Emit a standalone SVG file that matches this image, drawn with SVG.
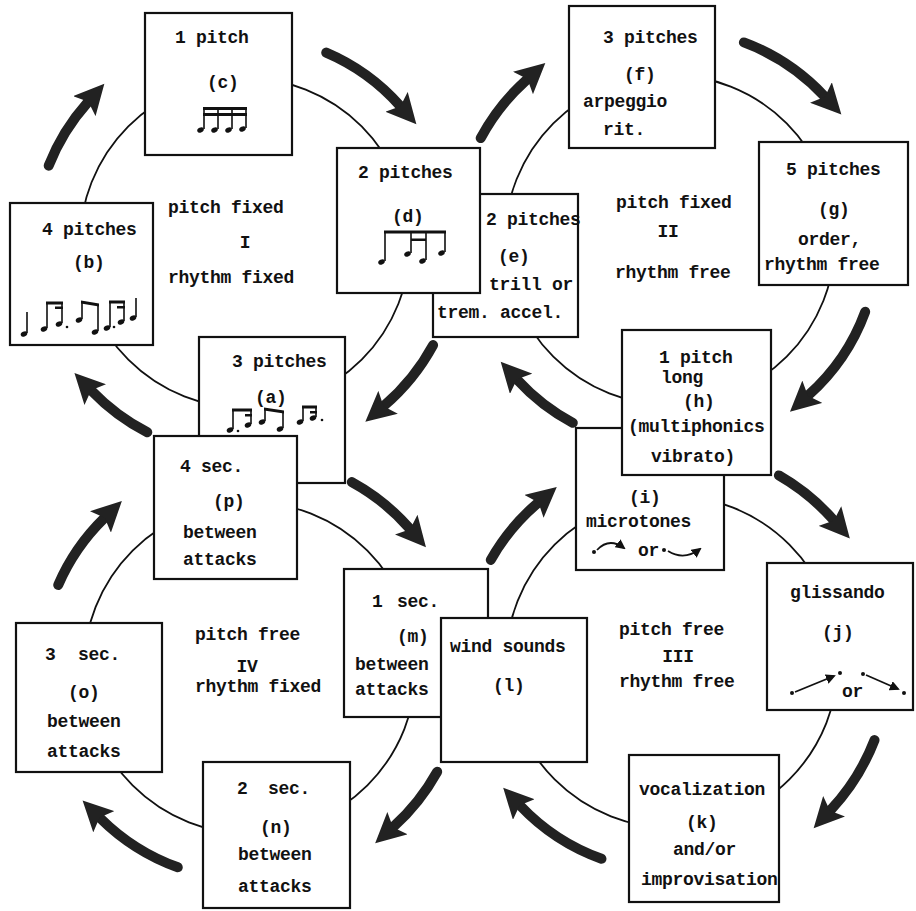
<svg xmlns="http://www.w3.org/2000/svg" width="916" height="911" viewBox="0 0 916 911">
<style>
.bx{fill:#fff;stroke:#111;stroke-width:2.2}
.ring{fill:none;stroke:#111;stroke-width:1.8}
.arr{fill:none;stroke:#222;stroke-width:10;stroke-linecap:round;marker-end:url(#ah)}
.t{font-family:"Liberation Mono","Courier New",monospace;font-size:18px;font-weight:bold;letter-spacing:-0.3px;fill:#111}
.mus{stroke:#111;stroke-width:1.6;fill:none}
.beam{fill:#111}
.nh{fill:#111}
.sym{stroke:#111;stroke-width:1.8;fill:none}
</style>
<defs>
<marker id="ah" markerUnits="userSpaceOnUse" markerWidth="32" markerHeight="30" viewBox="0 0 32 30" refX="5" refY="15" orient="auto">
<path d="M0,0 L30,15 L0,30 L6,15 Z" fill="#222"/>
</marker>
<marker id="sa" markerUnits="userSpaceOnUse" markerWidth="10" markerHeight="10" viewBox="0 0 10 10" refX="8" refY="5" orient="auto">
<path d="M0,0 L10,5 L0,10 Z" fill="#111"/>
</marker>
<ellipse id="hd" cx="0" cy="0" rx="3.4" ry="2.5" transform="rotate(-25)"/>
</defs>
<rect width="916" height="911" fill="#fff"/>

<g id="connectors">
<circle class="ring" cx="245" cy="243" r="165"/>
<circle class="ring" cx="670" cy="240" r="165"/>
<circle class="ring" cx="672" cy="662" r="166"/>
<circle class="ring" cx="250" cy="668" r="166"/>
<path class="arr" d="M48.7,165.7 A211,211 0 0 1 87.7,102.4"/>
<path class="arr" d="M326.2,52.6 A207,207 0 0 1 399.8,105.6"/>
<path class="arr" d="M433.1,345.1 A214,214 0 0 1 384.3,405.5"/>
<path class="arr" d="M147.3,432.3 A213,213 0 0 1 91.8,391"/>
<path class="arr" d="M480.7,138.1 A215,215 0 0 1 526.7,79.7"/>
<path class="arr" d="M743.9,42.4 A211,211 0 0 1 824.3,96.1"/>
<path class="arr" d="M865.2,311.8 A208,208 0 0 1 808.6,395.1"/>
<path class="arr" d="M572.8,422.8 A207,207 0 0 1 517.6,380.1"/>
<path class="arr" d="M778.9,475.4 A215,215 0 0 1 833.3,519.8"/>
<path class="arr" d="M874.5,740.1 A217,217 0 0 1 830.7,810"/>
<path class="arr" d="M601.5,858.8 A209,209 0 0 1 520.4,805.9"/>
<path class="arr" d="M490.8,559.9 A208,208 0 0 1 537.7,503.1"/>
<path class="arr" d="M351.8,482.1 A212,212 0 0 1 409.5,528.4"/>
<path class="arr" d="M437.2,771.7 A214,214 0 0 1 393.7,826.5"/>
<path class="arr" d="M177.8,867.3 A212,212 0 0 1 100.3,818.2"/>
<path class="arr" d="M58.2,585 A209,209 0 0 1 104,518.4"/>
</g>

<g id="label-I">
<text class="t" x="168" y="213">pitch fixed</text>
<text class="t" x="245" y="248" text-anchor="middle">I</text>
<text class="t" x="168" y="283">rhythm fixed</text>
</g>
<g id="label-II">
<text class="t" x="616" y="208">pitch fixed</text>
<text class="t" x="668" y="237" text-anchor="middle">II</text>
<text class="t" x="615" y="278">rhythm free</text>
</g>
<g id="label-III">
<text class="t" x="619" y="635">pitch free</text>
<text class="t" x="678" y="662" text-anchor="middle">III</text>
<text class="t" x="619" y="687">rhythm free</text>
</g>
<g id="label-IV">
<text class="t" x="195" y="640">pitch free</text>
<text class="t" x="247" y="672" text-anchor="middle">IV</text>
<text class="t" x="195" y="692">rhythm fixed</text>
</g>

<g id="node-b">
<rect class="bx" x="10" y="203" width="143" height="142"/>
<text class="t" x="42" y="235">4 pitches</text>
<text class="t" x="73" y="268">(b)</text>
<g class="mus">
<path d="M27,312V333 M47,303V328 M62,303V323 M82,302V319 M98,305V331 M110,302V327 M124,302V321 M136,298V317"/>
</g>
<path class="beam" d="M46,301.5H63V304.5H46Z M55,306.5H63V309H55Z M81,300.5L99,303.5V306.5L81,303.5Z M109,300.5H125V303.5H109Z M117,306H125V308.5H117Z"/>
<g class="nh">
<use href="#hd" x="24" y="334"/><use href="#hd" x="44" y="329"/><use href="#hd" x="59" y="324"/>
<use href="#hd" x="79" y="320"/><use href="#hd" x="95" y="332"/><use href="#hd" x="107" y="328"/>
<use href="#hd" x="121" y="322"/><use href="#hd" x="133" y="318"/>
<circle cx="67" cy="327" r="1.3"/><circle cx="114" cy="327" r="1.3"/>
</g>
</g>

<g id="node-c">
<rect class="bx" x="145" y="13" width="147" height="142"/>
<text class="t" x="175" y="43">1 pitch</text>
<text class="t" x="207" y="88">(c)</text>
<path class="mus" d="M204,108V129 M218,108V129 M232,108V129 M246,108V128"/>
<path class="beam" d="M203,107H247V110H203Z M203,113H247V116H203Z"/>
<g class="nh"><use href="#hd" x="200.5" y="130"/><use href="#hd" x="214.5" y="130"/><use href="#hd" x="228.5" y="130"/><use href="#hd" x="242.5" y="129"/></g>
</g>

<g id="node-a">
<rect class="bx" x="199" y="337" width="146" height="146"/>
<text class="t" x="232" y="367">3 pitches</text>
<text class="t" x="255" y="403">(a)</text>
<path class="mus" d="M233,410V429 M251,410V424 M265,409V421 M283,412V428 M303,407V421 M316,407V417"/>
<path class="beam" d="M232,408.5H252V411.5H232Z M245,414H252V416.5H245Z M264,407.5L284,410.5V413.5L264,410.5Z M302,405.5H317V408.5H302Z M310,411H317V413.5H310Z"/>
<g class="nh"><use href="#hd" x="230" y="430"/><use href="#hd" x="248" y="425"/><use href="#hd" x="262" y="422"/><use href="#hd" x="280" y="429"/><use href="#hd" x="300" y="422"/><use href="#hd" x="313" y="418"/>
<circle cx="238" cy="431" r="1.3"/><circle cx="322" cy="420" r="1.3"/></g>
</g>

<g id="node-p">
<rect class="bx" x="154" y="436" width="143" height="143"/>
<text class="t" x="180" y="472">4 sec.</text>
<text class="t" x="213" y="507">(p)</text>
<text class="t" x="183" y="538">between</text>
<text class="t" x="183" y="565">attacks</text>
</g>

<g id="node-e">
<rect class="bx" x="433" y="194" width="145" height="143"/>
<text class="t" x="486" y="225">2 pitches</text>
<text class="t" x="498" y="262">(e)</text>
<text class="t" x="489" y="290">trill or</text>
<text class="t" x="437" y="318">trem. accel.</text>
</g>

<g id="node-d">
<rect class="bx" x="337" y="148" width="143" height="145"/>
<text class="t" x="358" y="178">2 pitches</text>
<text class="t" x="392" y="222">(d)</text>
<path class="mus" d="M385,232V261 M411,232V253 M426,232V260 M445,232V252"/>
<path class="beam" d="M384,230.5H446V233.5H384Z M411,238.5H426V241H411Z"/>
<g class="nh"><use href="#hd" x="381.5" y="262"/><use href="#hd" x="407.5" y="254"/><use href="#hd" x="422.5" y="261"/><use href="#hd" x="441.5" y="253"/></g>
</g>

<g id="node-f">
<rect class="bx" x="569" y="6" width="146" height="142"/>
<text class="t" x="603" y="43">3 pitches</text>
<text class="t" x="624" y="80">(f)</text>
<text class="t" x="583" y="107">arpeggio</text>
<text class="t" x="603" y="135">rit.</text>
</g>

<g id="node-g">
<rect class="bx" x="759" y="142" width="149" height="143"/>
<text class="t" x="786" y="175">5 pitches</text>
<text class="t" x="818" y="215">(g)</text>
<text class="t" x="798" y="245">order,</text>
<text class="t" x="764" y="270">rhythm free</text>
</g>

<g id="node-i">
<rect class="bx" x="576" y="428" width="148" height="142"/>
<text class="t" x="629" y="503">(i)</text>
<text class="t" x="586" y="527">microtones</text>
<circle cx="594" cy="552" r="2" fill="#111"/>
<path class="sym" d="M597,550 Q609,537 624,548" marker-end="url(#sa)"/>
<text class="t" x="638" y="556">or</text>
<circle cx="664" cy="550" r="2" fill="#111"/>
<path class="sym" d="M668,551 Q684,561 700,549" marker-end="url(#sa)"/>
</g>

<g id="node-h">
<rect class="bx" x="622" y="330" width="149" height="145"/>
<text class="t" x="659" y="363">1 pitch</text>
<text class="t" x="661" y="383">long</text>
<text class="t" x="683" y="407">(h)</text>
<text class="t" x="628" y="432">(multiphonics</text>
<text class="t" x="651" y="462">vibrato)</text>
</g>

<g id="node-j">
<rect class="bx" x="767" y="563" width="146" height="147"/>
<text class="t" x="790" y="598">glissando</text>
<text class="t" x="822" y="638">(j)</text>
<circle cx="792" cy="693" r="2" fill="#111"/>
<path class="sym" d="M795,692 L834,676" marker-end="url(#sa)"/>
<circle cx="840" cy="673" r="2" fill="#111"/>
<text class="t" x="842" y="697">or</text>
<circle cx="863" cy="674" r="2" fill="#111"/>
<path class="sym" d="M866,675 L898,689" marker-end="url(#sa)"/>
<circle cx="904" cy="693" r="2" fill="#111"/>
</g>

<g id="node-k">
<rect class="bx" x="629" y="755" width="150" height="147"/>
<text class="t" x="639" y="795">vocalization</text>
<text class="t" x="686" y="828">(k)</text>
<text class="t" x="673" y="855">and/or</text>
<text class="t" x="641" y="885">improvisation</text>
</g>

<g id="node-m">
<rect class="bx" x="344" y="569" width="144" height="148"/>
<text class="t" x="372" y="607">1 <tspan dx="4">sec.</tspan></text>
<text class="t" x="397" y="642">(m)</text>
<text class="t" x="355" y="670">between</text>
<text class="t" x="355" y="695">attacks</text>
</g>

<g id="node-l">
<rect class="bx" x="441" y="618" width="146" height="144"/>
<text class="t" x="450" y="652">wind sounds</text>
<text class="t" x="493" y="691">(l)</text>
</g>

<g id="node-n">
<rect class="bx" x="203" y="762" width="147" height="146"/>
<text class="t" x="237" y="794">2 <tspan dx="10">sec.</tspan></text>
<text class="t" x="260" y="833">(n)</text>
<text class="t" x="238" y="860">between</text>
<text class="t" x="238" y="892">attacks</text>
</g>

<g id="node-o">
<rect class="bx" x="16" y="623" width="146" height="149"/>
<text class="t" x="45" y="660">3 <tspan dx="12">sec.</tspan></text>
<text class="t" x="68" y="698">(o)</text>
<text class="t" x="47" y="727">between</text>
<text class="t" x="47" y="757">attacks</text>
</g>
</svg>
